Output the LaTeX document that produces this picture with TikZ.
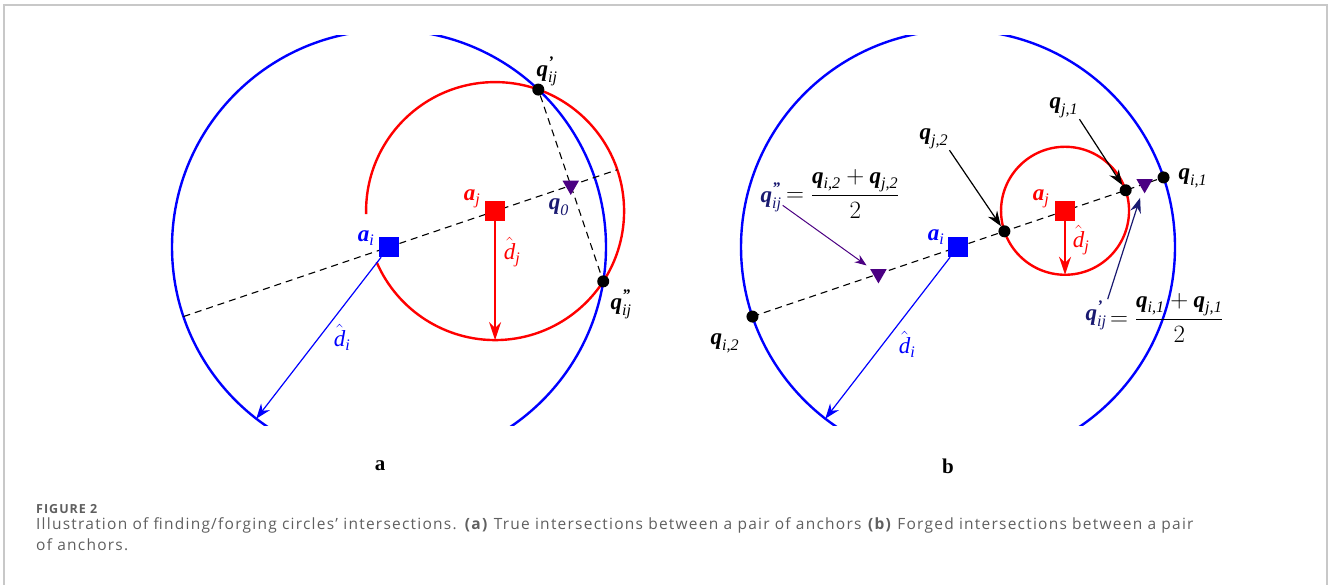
\documentclass[tikz,border=0pt]{standalone}
\usepackage{amsmath}
\usepackage{fontspec}
\setmainfont{Liberation Serif}
\newfontfamily\capfont[LetterSpace=8]{Open Sans}
\usetikzlibrary{arrows.meta,calc,shapes.geometric}
\definecolor{blu}{RGB}{0,0,255}
\definecolor{rosso}{RGB}{255,0,0}
\definecolor{viola}{RGB}{75,0,130}
\definecolor{blunotte}{RGB}{25,25,112}
\definecolor{cornice}{RGB}{200,200,200}
\definecolor{grigiotesto}{RGB}{95,95,95}
\newcommand{\vq}{\textbf{\textit{q}}}
\newcommand{\va}{\textbf{\textit{a}}}
\newcommand{\dhat}{\hat{\textit{d}}}
\newcommand{\pr}{\textbf{\textit{’}}}
\newcommand{\ppr}{\textbf{\textit{”}}}

\begin{document}
\begin{tikzpicture}[x=1pt,y=-1pt,
    cerchio/.style={line width=2.4pt},
    tratto/.style={line width=1.1pt,dash pattern=on 7pt off 5pt},
    punto/.style={circle,fill=black,minimum size=12pt,inner sep=0pt},
    medio/.style={regular polygon,regular polygon sides=3,shape border rotate=180,
      fill=viola,minimum size=19pt,inner sep=0pt},
    ancora/.style={fill=#1,minimum size=20pt,inner sep=0pt},
    etich/.style={font=\fontsize{23}{27}\selectfont,inner sep=1pt},
    freccia/.style={-{Stealth[length=15pt,width=11pt,inset=5pt]}}]
    \useasboundingbox (0,0) rectangle (1328,585);
    \draw[cornice,line width=1.5pt] (4,585) -- (4,5) -- (1327,5) -- (1327,585);
    % --- centri delle ancore ---
    \coordinate (ci) at (389,247);
    \coordinate (cj) at ($(ci)+(-18.7:112)$);
    \coordinate (cq) at ($(ci)+(-18.7:191.9)$);
    \coordinate (cib) at (958,247);
    \coordinate (cjb) at ($(cib)+(-18.7:113)$);
    \begin{scope}
      \clip (0,36) rectangle (1328,425);
      \foreach \c in {ci,cib}{\draw[cerchio,blu] (\c) circle[radius=217];}
    \end{scope}
    % --- (a) intersezioni vere ---
    \draw[cerchio,rosso] (cj) ++(178.7:129) arc[start angle=178.7,end angle=516.7,radius=129];
    \draw[tratto] ($(ci)+(161.3:217)$) -- ($(cj)+(-18.7:129)$);
    \node[punto] (qp) at ($(cq)+(-108.7:101.25)$) {};
    \node[punto] (qpp) at ($(cq)+(71.3:101.25)$) {};
    \draw[tratto] (qp) -- (qpp);
    \node[medio] (q0) at (cq) {};
    \node[ancora=blu] (ai) at (ci) {};
    \node[ancora=rosso] (aj) at (cj) {};
    \coordinate (ri) at ($(ci)+(127.7:217)$);
    \coordinate (rj) at ($(cj)+(90:129)$);
    \draw[freccia,blu,line width=1.2pt] (ai) -- (ri);
    \draw[-{Stealth[length=18pt,width=12pt,inset=6pt]},rosso,line width=2pt] (aj) -- (rj);
    \node[etich,blu] (lai) at (366,238) {$\va_{\textit{i}}$};
    \node[etich,rosso] (laj) at (472,199) {$\va_{\textit{j}}$};
    \node[etich,rosso] (ldj) at (512,252) {$\dhat_{\textit{j}}$};
    \node[etich,blu] (ldi) at (342,337) {$\dhat_{\textit{i}}$};
    \node[etich] (lqp) at (547,71) {$\vq^{\pr}_{\textit{ij}}$};
    \node[etich] (lqpp) at (621,304) {$\vq^{\ppr}_{\textit{ij}}$};
    \node[etich,blunotte] (lq0) at (559,207) {$\vq_{\textit{0}}$};
    % --- (b) intersezioni forgiate ---
    \draw[cerchio,rosso] (cjb) circle[radius=64];
    \draw[tratto] ($(cib)+(161.3:217)$) -- ($(cib)+(-18.7:217)$);
    \foreach \n/\a/\c/\r in {qi1/-18.7/cib/217, qi2/161.3/cib/217, qj1/-18.7/cjb/64, qj2/161.3/cjb/64}
      {\node[punto] (\n) at ($(\c)+(\a:\r)$) {};}
    \node[medio] (mp) at ($(qi1)!0.5!(qj1)$) {};
    \node[medio] (mpp) at ($(qi2)!0.5!(qj2)$) {};
    \node[ancora=blu] (bi) at (cib) {};
    \node[ancora=rosso] (bj) at (cjb) {};
    \coordinate (rib) at ($(cib)+(127.7:217)$);
    \coordinate (rjb) at ($(cjb)+(90:64)$);
    \draw[freccia,blu,line width=1.2pt] (bi) -- (rib);
    \draw[-{Stealth[length=18pt,width=12pt,inset=6pt]},rosso,line width=2pt] (bj) -- (rjb);
    \node[etich,blu] (lbi) at (936,237) {$\va_{\textit{i}}$};
    \node[etich,rosso] (lbj) at (1041,199) {$\va_{\textit{j}}$};
    \node[etich,rosso] (ldbj) at (1081,240) {$\dhat_{\textit{j}}$};
    \node[etich,blu] (ldbi) at (907,344) {$\dhat_{\textit{i}}$};
    \node[etich] (lqi1) at (1193,178) {$\vq_{\textit{i,1}}$};
    \node[etich] (lqi2) at (725,343) {$\vq_{\textit{i,2}}$};
    \node[etich] (lqj1) at (1064,108) {$\vq_{\textit{j,1}}$};
    \node[etich] (lqj2) at (934,139) {$\vq_{\textit{j,2}}$};
    \node[etich,blunotte] (lmpp) at (771,197) {$\vq^{\ppr}_{\textit{ij}}$};
    \node[etich,anchor=west] (fmpp) at (785,194)
      {$=\dfrac{\vq_{\textit{i,2}}+\vq_{\textit{j,2}}}{2}$};
    \node[etich,blunotte] (lmp) at (1096,315) {$\vq^{\pr}_{\textit{ij}}$};
    \node[etich,anchor=west] (fmp) at (1109,318)
      {$=\dfrac{\vq_{\textit{i,1}}+\vq_{\textit{j,1}}}{2}$};
    \draw[-{Stealth[length=12pt,width=9pt,inset=4pt]},viola,line width=1pt,shorten >=6pt] (lmpp) -- (mpp);
    \draw[freccia,blunotte,line width=1.2pt,shorten >=8pt] (lmp.north east) -- (mp);
    \draw[freccia,line width=1.2pt] (lqj2.south east) -- (qj2);
    \draw[freccia,line width=1.2pt] (lqj1.south east) -- (qj1);
    % --- lettere e didascalia ---
    \node[font=\fontsize{21}{24}\selectfont\bfseries] (pa) at (380,466) {a};
    \node[font=\fontsize{21}{24}\selectfont\bfseries] (pb) at (948,466) {b};
    \node[anchor=base west,text=grigiotesto,inner sep=0pt,
      font=\capfont\bfseries\fontsize{12.5}{14}\selectfont] (fig) at (36,513) {FIGURE 2};
    \node[anchor=base west,text=grigiotesto,inner sep=0pt,align=left,
      font=\capfont\fontsize{15.5}{21}\selectfont] (did) at (36,550)
      {Illustration of finding/forging circles’ intersections. \textbf{(a)} True intersections between a pair of anchors \textbf{(b)} Forged intersections between a pair\\of anchors.};
  \end{tikzpicture}
\end{document}
